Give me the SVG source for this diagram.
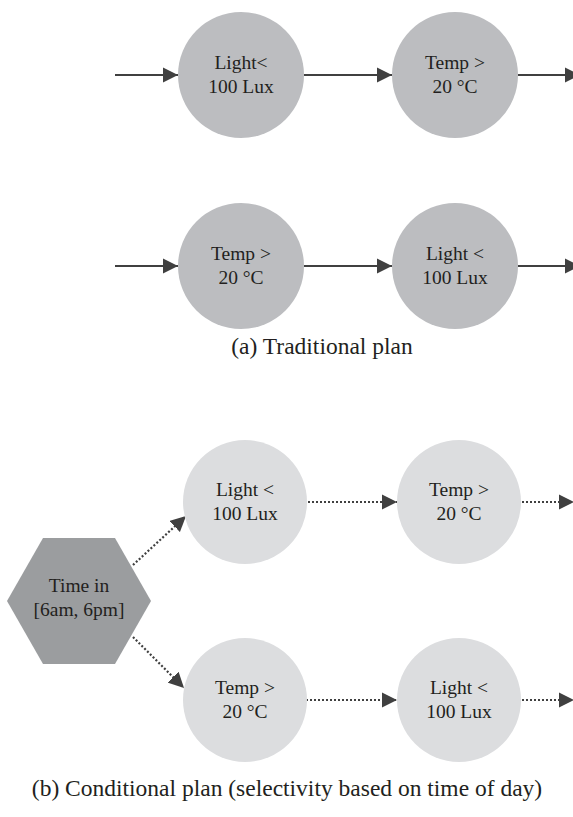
<svg xmlns="http://www.w3.org/2000/svg" width="573" height="817" viewBox="0 0 573 817">
  <defs>
    <style>
      .lbl { font-family: "Liberation Serif", "Times New Roman", serif; font-size: 19.5px; fill: #231f20; text-anchor: middle; }
      .cap { font-family: "Liberation Serif", "Times New Roman", serif; font-size: 23.5px; fill: #231f20; text-anchor: middle; }
      .dark { fill: #bcbdc0; }
      .light { fill: #dcdddf; }
      .hex { fill: #9b9d9f; }
      .solid { stroke: #404040; stroke-width: 2.2; fill: none; }
      .dotted { stroke: #404040; stroke-width: 2.2; fill: none; stroke-dasharray: 2 2; }
    </style>
    <marker id="head" viewBox="0 0 10 10" refX="10" refY="5" markerWidth="7" markerHeight="7" markerUnits="strokeWidth" orient="auto">
      <path d="M0,0 L10,5 L0,10 Z" fill="#404040"/>
    </marker>
  </defs>

  <rect width="573" height="817" fill="#ffffff"/>

  <!-- connectors -->
  <g id="connectors">
    <line class="solid" x1="115" y1="75" x2="178" y2="75" marker-end="url(#head)"/>
    <line class="solid" x1="304" y1="75" x2="392" y2="75" marker-end="url(#head)"/>
    <line class="solid" x1="518" y1="75" x2="580" y2="75" marker-end="url(#head)"/>
    <line class="solid" x1="115" y1="266" x2="178" y2="266" marker-end="url(#head)"/>
    <line class="solid" x1="304" y1="266" x2="392" y2="266" marker-end="url(#head)"/>
    <line class="solid" x1="518" y1="266" x2="580" y2="266" marker-end="url(#head)"/>

    <line class="dotted" x1="133" y1="565" x2="186" y2="516" marker-end="url(#head)"/>
    <line class="dotted" x1="133" y1="637" x2="184" y2="688" marker-end="url(#head)"/>
    <line class="dotted" x1="308" y1="502" x2="397" y2="502" marker-end="url(#head)"/>
    <line class="dotted" x1="522" y1="502" x2="574" y2="502" marker-end="url(#head)"/>
    <line class="dotted" x1="306" y1="700" x2="397" y2="700" marker-end="url(#head)"/>
    <line class="dotted" x1="522" y1="700" x2="574" y2="700" marker-end="url(#head)"/>
  </g>

  <!-- (a) traditional plan -->
  <g id="a-light">
    <circle class="dark" cx="241" cy="75" r="63"/>
    <text class="lbl" x="241" y="69">Light&lt;</text>
    <text class="lbl" x="241" y="93">100 Lux</text>
  </g>
  <g id="a-temp">
    <circle class="dark" cx="455" cy="75" r="63"/>
    <text class="lbl" x="455" y="69">Temp &gt;</text>
    <text class="lbl" x="455" y="93">20 °C</text>
  </g>
  <g id="a2-temp">
    <circle class="dark" cx="241" cy="266" r="63"/>
    <text class="lbl" x="241" y="260">Temp &gt;</text>
    <text class="lbl" x="241" y="284">20 °C</text>
  </g>
  <g id="a2-light">
    <circle class="dark" cx="455" cy="266" r="63"/>
    <text class="lbl" x="455" y="260">Light &lt;</text>
    <text class="lbl" x="455" y="284">100 Lux</text>
  </g>
  <text class="cap" x="322" y="354">(a) Traditional plan</text>

  <!-- (b) conditional plan -->
  <g id="b-time">
    <polygon class="hex" points="7,601 43,538 115,538 151,601 115,664 43,664"/>
    <text class="lbl" x="79" y="592">Time in</text>
    <text class="lbl" x="79" y="616">[6am, 6pm]</text>
  </g>
  <g id="b-light">
    <circle class="light" cx="245" cy="502" r="62"/>
    <text class="lbl" x="245" y="496">Light &lt;</text>
    <text class="lbl" x="245" y="520">100 Lux</text>
  </g>
  <g id="b-temp">
    <circle class="light" cx="459" cy="502" r="62"/>
    <text class="lbl" x="459" y="496">Temp &gt;</text>
    <text class="lbl" x="459" y="520">20 °C</text>
  </g>
  <g id="b2-temp">
    <circle class="light" cx="245" cy="700" r="62"/>
    <text class="lbl" x="245" y="694">Temp &gt;</text>
    <text class="lbl" x="245" y="718">20 °C</text>
  </g>
  <g id="b2-light">
    <circle class="light" cx="459" cy="700" r="62"/>
    <text class="lbl" x="459" y="694">Light &lt;</text>
    <text class="lbl" x="459" y="718">100 Lux</text>
  </g>
  <text class="cap" x="287" y="796">(b) Conditional plan (selectivity based on time of day)</text>
</svg>
